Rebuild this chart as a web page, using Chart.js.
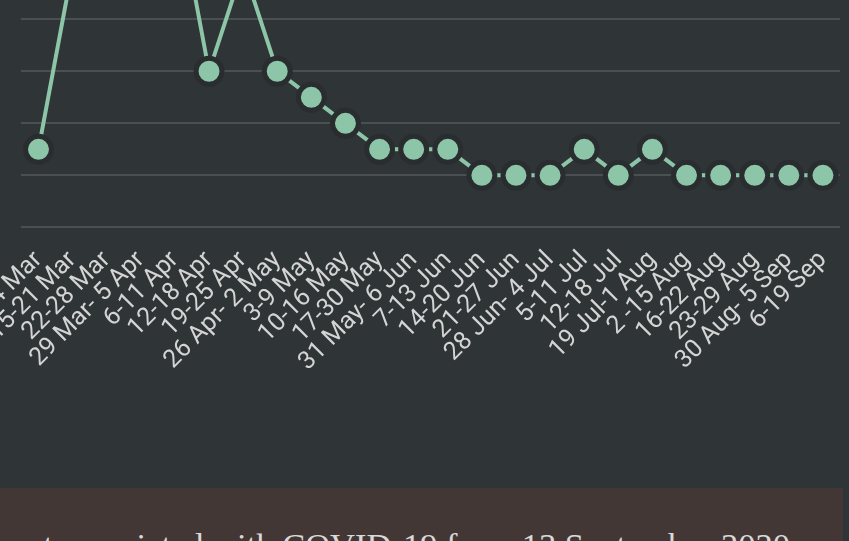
<!DOCTYPE html>
<html>
<head>
<meta charset="utf-8">
<script src="https://cdn.jsdelivr.net/npm/chart.js@4/dist/chart.umd.min.js"></script>
<style>
    html, body { margin: 0; padding: 0; }
    body { width: 849px; height: 541px; background: #2f3436; overflow: hidden; position: relative; }
    #frame { position: absolute; left: 0; top: 0; width: 849px; height: 488px; overflow: hidden; }
    #chart-box { position: absolute; left: -24px; top: -360px; width: 880px; height: 740px; }
    #caption-band { position: absolute; left: 0; top: 488px; width: 843px; height: 53px; background: #433736; overflow: hidden; }
    #caption { position: absolute; right: 53px; top: 40px; white-space: nowrap; font-family: "Liberation Serif", "DejaVu Serif", serif; font-size: 34.5px; line-height: 1; color: #d9d9d9; }
</style>
</head>
<body>
<div id="frame">
    <div id="chart-box"><canvas id="weeklyChart"></canvas></div>
</div>
<div id="caption-band">
    <div id="caption">Weekly report associated with COVID-19 from 13 September 2020</div>
</div>

<script>
const WEEK_LABELS = [
    '8-14 Mar', '15-21 Mar', '22-28 Mar', '29 Mar- 5 Apr', '6-11 Apr', '12-18 Apr',
    '19-25 Apr', '26 Apr- 2 May', '3-9 May', '10-16 May', '17-30 May', '31 May- 6 Jun',
    '7-13 Jun', '14-20 Jun', '21-27 Jun', '28 Jun- 4 Jul', '5-11 Jul', '12-18 Jul',
    '19 Jul-1 Aug', '2 -15 Aug', '16-22 Aug', '23-29 Aug', '30 Aug- 5 Sep', '6-19 Sep'
];
const WEEK_VALUES = [3, 10, 14, 17, 13, 6, 10, 6, 5, 4, 3, 3, 3, 2, 2, 2, 3, 2, 3, 2, 2, 2, 2, 2];
const Y_MIN = 0;
const Y_MAX = 22;
const Y_STEP = 2;

const MINT = '#8cc5a7';

// the visible picture is a crop of a bigger chart: plot area runs from x=21 to x=840,
// the zero line sits at y=227 and every unit is 26px high
const FRAME = { left: 21, right: 840, zero: 227, unitPx: 26 };

const chart = new Chart(document.getElementById('weeklyChart'), {
    type: 'line',
    data: {
        labels: WEEK_LABELS,
        datasets: [{
            data: WEEK_VALUES,
            borderColor: MINT,
            borderWidth: 4,
            pointRadius: 13,
            pointHoverRadius: 13,
            pointBorderWidth: 5,
            pointBackgroundColor: MINT,
            pointBorderColor: '#2a2d2f',
            tension: 0
        }]
    },
    options: {
        responsive: true,
        maintainAspectRatio: false,
        animation: false,
        layout: { padding: 0 },
        plugins: {
            legend: { display: false },
            tooltip: { enabled: false }
        },
        scales: {
            x: {
                offset: true,
                grid: { display: false },
                border: { display: false },
                ticks: {
                    color: '#d4d4d4',
                    font: { family: 'Roboto', size: 25 },
                    minRotation: 45,
                    maxRotation: 45,
                    autoSkip: false,
                    padding: 10
                }
            },
            y: {
                min: Y_MIN,
                max: Y_MAX,
                grid: { color: '#4a5052', lineWidth: 2, drawTicks: false },
                border: { display: false },
                ticks: { display: false, stepSize: Y_STEP }
            }
        }
    }
});

// size and shift the canvas box so the plot area lands where the crop shows it
function fitToFrame() {
    const box = document.getElementById('chart-box');
    for (let i = 0; i < 3; i++) {
        const a = chart.chartArea;
        const w = box.clientWidth + (FRAME.right - FRAME.left) - (a.right - a.left);
        const h = box.clientHeight + (Y_MAX - Y_MIN) * FRAME.unitPx - (a.bottom - a.top);
        box.style.width = Math.round(w) + 'px';
        box.style.height = Math.round(h) + 'px';
        chart.resize();
    }
    const a = chart.chartArea;
    box.style.left = Math.round(FRAME.left - a.left) + 'px';
    box.style.top = Math.round(FRAME.zero - chart.scales.y.getPixelForValue(0)) + 'px';
}

fitToFrame();
</script>
</body>
</html>
